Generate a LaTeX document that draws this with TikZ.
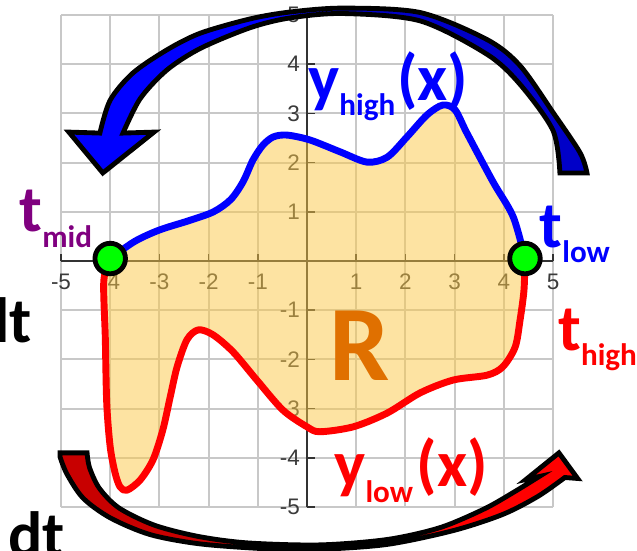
\documentclass[tikz,border=0pt]{standalone}
\usepackage{fontspec}
\setmainfont{Carlito}
\newfontfamily\tickfont{Liberation Sans}
\usepackage{tikz}
\usetikzlibrary{positioning}
\definecolor{graphblue}{HTML}{0000FF}
\definecolor{graphred}{HTML}{FF0000}
\definecolor{deepblue}{HTML}{0000C8}
\definecolor{deepred}{HTML}{C80000}
\definecolor{midpurple}{HTML}{800080}
\definecolor{regionfill}{HTML}{FCC846}
\definecolor{regiontext}{HTML}{E07000}
\definecolor{gridgray}{HTML}{C8C8C8}
\definecolor{ticktext}{HTML}{3A3A3A}
\definecolor{dotgreen}{HTML}{00FF00}
\newcommand{\sublabel}[1]{\raisebox{-9pt}{\fontsize{18}{18}\selectfont #1}}
\newcommand{\bluearrowpath}{plot[smooth] coordinates {(5.69,1.79) (5.55,2.2) (5.0,3.02) (4.33,3.97) (3.66,4.50) (2.30,5.05) (0.73,5.14) (-0.35,5.06) (-1.16,4.92) (-2.17,4.63) (-2.85,4.29) (-3.54,3.82) (-4.0,3.27) (-4.21,2.60)}
  -- (-4.84,2.62) -- (-4.15,1.79) -- (-3.11,2.62)
  -- plot[smooth] coordinates {(-3.74,2.60) (-3.39,3.30) (-2.85,3.88) (-2.17,4.32) (-1.16,4.74) (-0.35,4.94) (0.73,5.03) (2.30,4.88) (3.66,4.2) (4.33,3.59) (5.0,2.65) (5.14,1.79)}
  -- cycle}
\newcommand{\redarrowpath}{(-5.02,-3.90)
  -- plot[smooth] coordinates {(-4.47,-3.90) (-4.42,-4.2) (-4.22,-4.62) (-3.82,-5.02) (-3.1,-5.37) (-2.2,-5.6) (-1.2,-5.73) (0.26,-5.77) (1.63,-5.66) (2.7,-5.42) (3.6,-5.04) (4.2,-4.70) (4.72,-4.38)}
  -- (4.45,-4.44) -- (5.12,-3.90) -- (5.50,-4.42)
  -- plot[smooth] coordinates {(5.24,-4.40) (4.7,-4.78) (3.98,-5.15) (2.97,-5.48) (1.63,-5.76) (0.26,-5.86) (-0.81,-5.85) (-2.17,-5.75) (-3.19,-5.56) (-4.0,-5.22) (-4.55,-4.82) (-4.88,-4.33) (-5.02,-3.98)}
  -- cycle}
\tikzset{
  gridline/.style={draw=gridgray, line width=1.2pt},
  axisline/.style={draw=black!80, line width=0.9pt},
  ticklabel/.style={font=\tickfont\fontsize{13}{14}\selectfont, text=ticktext, inner sep=0pt},
  curvehigh/.style={draw=graphblue, line width=4pt, line join=round},
  curvelow/.style={draw=graphred, line width=4pt, line join=round},
  dotnode/.style={circle, draw=black, fill=dotgreen, line width=2.8pt,
    minimum size=0.62cm, inner sep=0pt},
  arrowrim/.style={draw=black, line width=2.8pt},
  bigtext/.style={font=\bfseries\fontsize{38}{38}\selectfont, text=#1,
    inner sep=0pt, anchor=base west},
  bigtext/.default=black,
  cuttext/.style={font=\bfseries\fontsize{37}{37}\selectfont,
    inner sep=0pt, anchor=base east},
}
\begin{document}
\begin{tikzpicture}
    \useasboundingbox (-6.240,-5.894) rectangle (6.707,5.305);
    \clip (-6.240,-5.894) rectangle (6.707,5.305);

    % GRID AND AXES
    \foreach \k in {-5,...,5} {
        \draw[gridline] (\k,-5) -- (\k,5);
        \draw[gridline] (-5,\k) -- (5,\k);
    }
    \draw[axisline] (-5,0) -- (5,0);
    \draw[axisline] (0,-5) -- (0,5);
    \foreach \k in {-5,...,-1,1,2,...,5} {
        \draw[axisline] (\k,0) -- (\k,0.14);
        \draw[axisline] (0,\k) -- (0.16,\k);
        \node[ticklabel] (xt\k) at (\k,-0.42) {\k};
        \node[ticklabel, anchor=east] (yt\k) at (-0.14,\k) {\k};
    }

    % END POINTS
    \coordinate (pmid) at (-4,0.05);
    \coordinate (plow) at (4.43,0.05);

    % REGION R
    \fill[regionfill, opacity=0.5] plot[smooth] coordinates {(pmid) (-3.5,0.4) (-3,0.63) (-2.4,0.82) (-1.9,1.0) (-1.55,1.25) (-1.3,1.61) (-1.1,2.05) (-0.9,2.35) (-0.69,2.52) (-0.41,2.56) (0.06,2.46) (0.67,2.22) (1.22,2.01) (1.63,2.11) (2.03,2.52) (2.44,2.97) (2.76,3.17) (3.01,3.07) (3.25,2.6) (3.78,1.61) (4.19,0.9) (plow)}
        -- plot[smooth] coordinates {(plow) (4.41,-0.59) (4.33,-1.2) (4.23,-1.75) (3.98,-2.15) (3.66,-2.32) (2.97,-2.42) (2.3,-2.68) (1.63,-3.09) (0.94,-3.37) (0.26,-3.47) (0,-3.37) (-0.49,-3.03) (-1.02,-2.42) (-1.5,-1.85) (-1.91,-1.5) (-2.21,-1.4) (-2.44,-1.6) (-2.64,-2.15) (-2.78,-2.76) (-2.93,-3.43) (-3.13,-4.04) (-3.39,-4.45) (-3.66,-4.66) (-3.8,-4.59) (-3.9,-4.31) (-4.0,-3.78) (-4.07,-2.9) (-4.1,-1.55) (-4.13,-0.4) (pmid)}
        -- cycle;
    \node[font=\bfseries\fontsize{62}{62}\selectfont, text=regiontext] (rlabel) at (1.08,-1.73) {R};

    % CURVES
    \draw[curvehigh] plot[smooth] coordinates {(pmid) (-3.5,0.4) (-3,0.63) (-2.4,0.82) (-1.9,1.0) (-1.55,1.25) (-1.3,1.61) (-1.1,2.05) (-0.9,2.35) (-0.69,2.52) (-0.41,2.56) (0.06,2.46) (0.67,2.22) (1.22,2.01) (1.63,2.11) (2.03,2.52) (2.44,2.97) (2.76,3.17) (3.01,3.07) (3.25,2.6) (3.78,1.61) (4.19,0.9) (plow)};
    \draw[curvelow] plot[smooth] coordinates {(pmid) (-4.13,-0.4) (-4.1,-1.55) (-4.07,-2.9) (-4.0,-3.78) (-3.9,-4.31) (-3.8,-4.59) (-3.66,-4.66) (-3.39,-4.45) (-3.13,-4.04) (-2.93,-3.43) (-2.78,-2.76) (-2.64,-2.15) (-2.44,-1.6) (-2.21,-1.4) (-1.91,-1.5) (-1.5,-1.85) (-1.02,-2.42) (-0.49,-3.03) (0,-3.37) (0.26,-3.47) (0.94,-3.37) (1.63,-3.09) (2.3,-2.68) (2.97,-2.42) (3.66,-2.32) (3.98,-2.15) (4.23,-1.75) (4.33,-1.2) (4.41,-0.59) (plow)};
    \node[dotnode] (dotmid) at (pmid) {};
    \node[dotnode] (dotlow) at (plow) {};

    % BLUE ARROW (top)
    \fill[deepblue] \bluearrowpath;
    \begin{scope}
        \clip (-6.3,0) rectangle (0.6,6);
        \fill[graphblue] \bluearrowpath;
    \end{scope}
    \draw[arrowrim] \bluearrowpath;

    % RED ARROW (bottom)
    \fill[graphred] \redarrowpath;
    \begin{scope}
        \clip (-6.3,-6) rectangle (0.3,-3);
        \fill[deepred] \redarrowpath;
    \end{scope}
    \draw[arrowrim] \redarrowpath;

    % LABELS
    \node[bigtext=graphblue] (yhigh) at (0.02,3.27) {y\sublabel{high}\kern1pt(x)};
    \node[bigtext=midpurple] (tmid) at (-5.85,0.59) {t\sublabel{mid}};
    \node[bigtext=graphblue] (tlow) at (4.72,0.28) {t\sublabel{low}};
    \node[bigtext=graphred] (thigh) at (5.10,-1.81) {t\sublabel{high}};
    \node[bigtext=graphred] (ylow) at (0.55,-4.59) {y\sublabel{low}\kern2pt(x)};
    \node[cuttext] (dtleft) at (-5.59,-1.65) {dt};
    \node[cuttext] (dtbottom) at (-4.92,-6.0) {dt};
\end{tikzpicture}
\end{document}
